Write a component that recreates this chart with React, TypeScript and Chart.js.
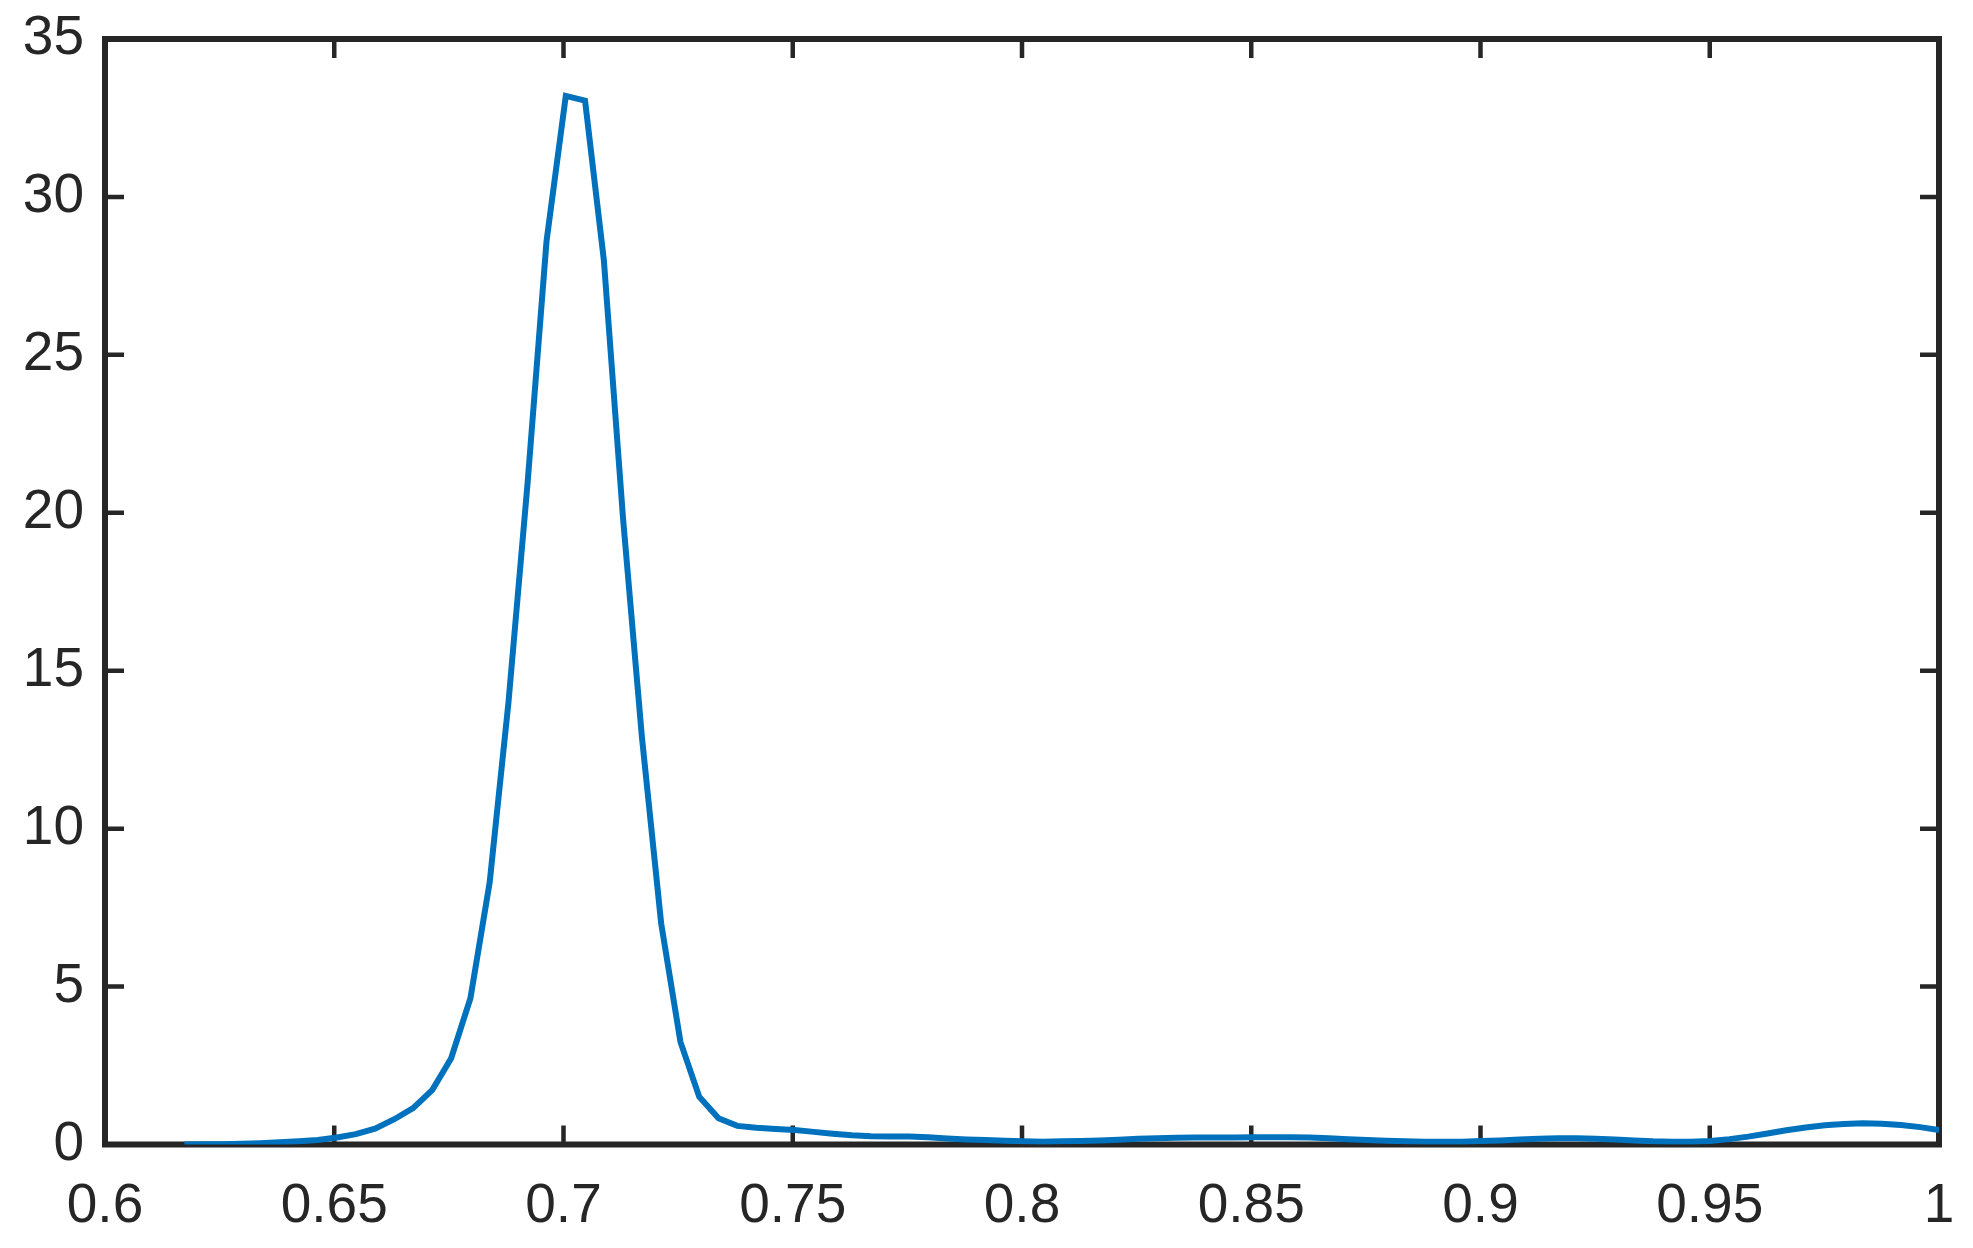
import React, { useEffect, useRef } from "react";
import { Chart, registerables } from "chart.js";

Chart.register(...registerables);

// Kernel-density style curve
const xValues: number[] = [
  0.6173, 0.6215, 0.6256, 0.6298, 0.6339, 0.6381, 0.6423, 0.6464, 0.6506, 0.6547,
  0.6589, 0.6631, 0.6672, 0.6714, 0.6755, 0.6797, 0.6839, 0.688, 0.6922, 0.6963,
  0.7005, 0.7047, 0.7088, 0.713, 0.7171, 0.7213, 0.7255, 0.7296, 0.7338, 0.7379,
  0.7421, 0.7463, 0.7504, 0.7546, 0.7587, 0.7629, 0.7671, 0.7712, 0.7754, 0.7795,
  0.7837, 0.7879, 0.792, 0.7962, 0.8003, 0.8045, 0.8087, 0.8128, 0.817, 0.8211,
  0.8253, 0.8295, 0.8336, 0.8378, 0.8419, 0.8461, 0.8503, 0.8544, 0.8586, 0.8627,
  0.8669, 0.8711, 0.8752, 0.8794, 0.8835, 0.8877, 0.8919, 0.896, 0.9002, 0.9043,
  0.9085, 0.9127, 0.9168, 0.921, 0.9251, 0.9293, 0.9335, 0.9376, 0.9418, 0.9459,
  0.9501, 0.9543, 0.9584, 0.9626, 0.9667, 0.9709, 0.9751, 0.9792, 0.9834, 0.9875,
  0.9917, 0.9959, 1.0, 1.0042,
];

const densityValues: number[] = [
  0.0, 0.01, 0.01, 0.02, 0.04, 0.07, 0.1, 0.14, 0.22, 0.33,
  0.5, 0.8, 1.15, 1.73, 2.73, 4.63, 8.3, 14.0, 21.0, 28.6,
  33.2, 33.05, 28.0, 19.8, 12.9, 7.0, 3.25, 1.51, 0.83, 0.59,
  0.53, 0.49, 0.46, 0.4, 0.34, 0.29, 0.26, 0.25, 0.25, 0.23,
  0.19, 0.16, 0.14, 0.12, 0.1, 0.09, 0.1, 0.11, 0.13, 0.15,
  0.18, 0.2, 0.21, 0.22, 0.22, 0.22, 0.23, 0.23, 0.23, 0.22,
  0.2, 0.17, 0.14, 0.12, 0.1, 0.09, 0.09, 0.09, 0.11, 0.13,
  0.16, 0.18, 0.2, 0.2, 0.18, 0.16, 0.13, 0.1, 0.09, 0.09,
  0.11, 0.17, 0.25, 0.35, 0.45, 0.54, 0.61, 0.65, 0.67, 0.66,
  0.62, 0.55, 0.46, 0.38,
];

const X_MIN = 0.6;
const X_MAX = 1;
const X_STEP = 0.05;
const Y_MIN = 0;
const Y_MAX = 35;
const Y_STEP = 5;

const AXIS_COLOR = "#262626";
const LINE_COLOR = "#0072BD";
const FONT_FAMILY = "'Liberation Sans', Arial, Helvetica, sans-serif";

const boxPlugin = {
  id: "matlabBox",
  beforeDatasetsDraw(chart: any) {
    const { ctx, chartArea, scales } = chart;
    const { left, right, top, bottom } = chartArea;
    const xs = scales.x;
    const ys = scales.y;
    const TL = 19;
    ctx.save();
    ctx.strokeStyle = AXIS_COLOR;
    ctx.lineWidth = 4.5;
    ctx.lineCap = "butt";
    xs.ticks.forEach((t: any) => {
      const px = xs.getPixelForValue(t.value);
      ctx.beginPath();
      ctx.moveTo(px, bottom);
      ctx.lineTo(px, bottom - TL);
      ctx.moveTo(px, top);
      ctx.lineTo(px, top + TL);
      ctx.stroke();
    });
    ys.ticks.forEach((t: any) => {
      const py = ys.getPixelForValue(t.value);
      ctx.beginPath();
      ctx.moveTo(left, py);
      ctx.lineTo(left + TL, py);
      ctx.moveTo(right, py);
      ctx.lineTo(right - TL, py);
      ctx.stroke();
    });
    ctx.lineWidth = 6;
    ctx.lineJoin = "miter";
    ctx.strokeRect(left, top, right - left, bottom - top);
    ctx.restore();
  },
};

export default function App() {
  const canvasRef = useRef<HTMLCanvasElement | null>(null);

  useEffect(() => {
    document.body.style.margin = "0";
    const canvas = canvasRef.current;
    if (!canvas) return;
    const points = xValues.map((x, i) => ({ x, y: densityValues[i] }));
    const chart = new Chart(canvas, {
      type: "line",
      data: {
        datasets: [
          {
            data: points,
            borderColor: LINE_COLOR,
            borderWidth: 6,
            pointRadius: 0,
            tension: 0,
            fill: false,
          },
        ],
      },
      options: {
        animation: false,
        responsive: false,
        devicePixelRatio: 1,
        layout: { padding: { left: 0, top: 39, right: 34, bottom: 0 } },
        plugins: {
          legend: { display: false },
          tooltip: { enabled: false },
        },
        scales: {
          x: {
            type: "linear",
            min: X_MIN,
            max: X_MAX,
            grid: { display: false, drawTicks: false },
            border: { display: false },
            ticks: {
              stepSize: X_STEP,
              color: AXIS_COLOR,
              font: { family: FONT_FAMILY, size: 55 },
              padding: 29,
              maxRotation: 0,
              autoSkip: false,
              callback: (v: any) => String(Number(Number(v).toFixed(2))),
            },
            afterFit: (scale: any) => {
              scale.height = 103.5;
              scale.paddingLeft = 0;
              scale.paddingRight = 0;
            },
          },
          y: {
            type: "linear",
            min: Y_MIN,
            max: Y_MAX,
            grid: { display: false, drawTicks: false },
            border: { display: false },
            ticks: {
              stepSize: Y_STEP,
              color: AXIS_COLOR,
              font: { family: FONT_FAMILY, size: 55 },
              padding: 21,
              autoSkip: false,
              callback: (v: any) => String(Number(Number(v).toFixed(2))),
            },
            afterFit: (scale: any) => {
              scale.width = 105;
              scale.paddingTop = 0;
              scale.paddingBottom = 0;
            },
          },
        },
      },
      plugins: [boxPlugin],
    });
    return () => chart.destroy();
  }, []);

  return (
    <div style={{ position: "absolute", left: 0, top: 0, width: 1973, height: 1248, background: "#ffffff" }}>
      <canvas ref={canvasRef} width={1973} height={1248} style={{ display: "block" }} />
    </div>
  );
}
